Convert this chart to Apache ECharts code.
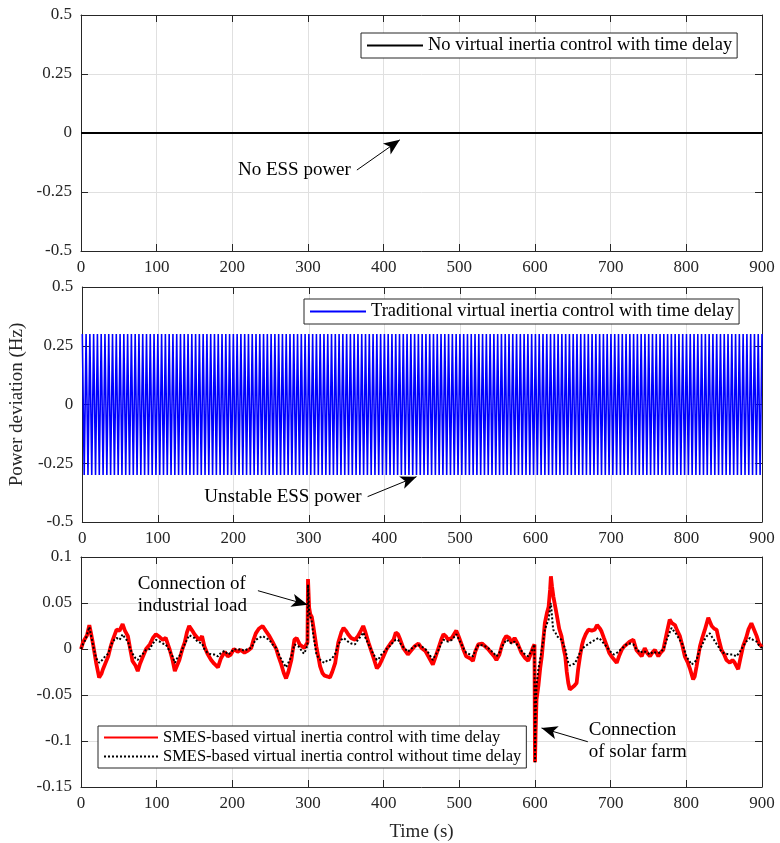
<!DOCTYPE html>
<html>
<head>
<meta charset="utf-8">
<script src="https://cdn.jsdelivr.net/npm/echarts@6/dist/echarts.min.js"></script>
<style>html,body{margin:0;padding:0;background:#fff;}#c{width:780px;height:843px;}</style>
</head>
<body>
<div id="c"></div>
<script>
// ---------- DATA ----------
const xTicks = [0,100,200,300,400,500,600,700,800,900];
const yTicksTop = [-0.5,-0.25,0,0.25,0.5];
const yTicksBottom = [-0.15,-0.1,-0.05,0,0.05,0.1];

const seriesNames = [
  'No virtual inertia control with time delay',
  'Traditional virtual inertia control with time delay',
  'SMES-based virtual inertia control with time delay',
  'SMES-based virtual inertia control without time delay'
];

// Panel 1: no ESS power
const noCtrlT = [0, 900];
const noCtrlV = [0, 0];

// Panel 2: sustained oscillation (peaks)
const tradT = [
0,2.5,5,7.5,10,12.5,15,17.5,20,22.5,25,27.5,30,32.5,35,37.5,40,42.5,45,47.5,
50,52.5,55,57.5,60,62.5,65,67.5,70,72.5,75,77.5,80,82.5,85,87.5,90,92.5,95,97.5,
100,102.5,105,107.5,110,112.5,115,117.5,120,122.5,125,127.5,130,132.5,135,137.5,140,142.5,145,147.5,
150,152.5,155,157.5,160,162.5,165,167.5,170,172.5,175,177.5,180,182.5,185,187.5,190,192.5,195,197.5,
200,202.5,205,207.5,210,212.5,215,217.5,220,222.5,225,227.5,230,232.5,235,237.5,240,242.5,245,247.5,
250,252.5,255,257.5,260,262.5,265,267.5,270,272.5,275,277.5,280,282.5,285,287.5,290,292.5,295,297.5,
300,302.5,305,307.5,310,312.5,315,317.5,320,322.5,325,327.5,330,332.5,335,337.5,340,342.5,345,347.5,
350,352.5,355,357.5,360,362.5,365,367.5,370,372.5,375,377.5,380,382.5,385,387.5,390,392.5,395,397.5,
400,402.5,405,407.5,410,412.5,415,417.5,420,422.5,425,427.5,430,432.5,435,437.5,440,442.5,445,447.5,
450,452.5,455,457.5,460,462.5,465,467.5,470,472.5,475,477.5,480,482.5,485,487.5,490,492.5,495,497.5,
500,502.5,505,507.5,510,512.5,515,517.5,520,522.5,525,527.5,530,532.5,535,537.5,540,542.5,545,547.5,
550,552.5,555,557.5,560,562.5,565,567.5,570,572.5,575,577.5,580,582.5,585,587.5,590,592.5,595,597.5,
600,602.5,605,607.5,610,612.5,615,617.5,620,622.5,625,627.5,630,632.5,635,637.5,640,642.5,645,647.5,
650,652.5,655,657.5,660,662.5,665,667.5,670,672.5,675,677.5,680,682.5,685,687.5,690,692.5,695,697.5,
700,702.5,705,707.5,710,712.5,715,717.5,720,722.5,725,727.5,730,732.5,735,737.5,740,742.5,745,747.5,
750,752.5,755,757.5,760,762.5,765,767.5,770,772.5,775,777.5,780,782.5,785,787.5,790,792.5,795,797.5,
800,802.5,805,807.5,810,812.5,815,817.5,820,822.5,825,827.5,830,832.5,835,837.5,840,842.5,845,847.5,
850,852.5,855,857.5,860,862.5,865,867.5,870,872.5,875,877.5,880,882.5,885,887.5,890,892.5,895,897.5,
900];
const tradV = [
0.3,-0.3,0.3,-0.3,0.3,-0.3,0.3,-0.3,0.3,-0.3,0.3,-0.3,0.3,-0.3,0.3,-0.3,0.3,-0.3,0.3,-0.3,
0.3,-0.3,0.3,-0.3,0.3,-0.3,0.3,-0.3,0.3,-0.3,0.3,-0.3,0.3,-0.3,0.3,-0.3,0.3,-0.3,0.3,-0.3,
0.3,-0.3,0.3,-0.3,0.3,-0.3,0.3,-0.3,0.3,-0.3,0.3,-0.3,0.3,-0.3,0.3,-0.3,0.3,-0.3,0.3,-0.3,
0.3,-0.3,0.3,-0.3,0.3,-0.3,0.3,-0.3,0.3,-0.3,0.3,-0.3,0.3,-0.3,0.3,-0.3,0.3,-0.3,0.3,-0.3,
0.3,-0.3,0.3,-0.3,0.3,-0.3,0.3,-0.3,0.3,-0.3,0.3,-0.3,0.3,-0.3,0.3,-0.3,0.3,-0.3,0.3,-0.3,
0.3,-0.3,0.3,-0.3,0.3,-0.3,0.3,-0.3,0.3,-0.3,0.3,-0.3,0.3,-0.3,0.3,-0.3,0.3,-0.3,0.3,-0.3,
0.3,-0.3,0.3,-0.3,0.3,-0.3,0.3,-0.3,0.3,-0.3,0.3,-0.3,0.3,-0.3,0.3,-0.3,0.3,-0.3,0.3,-0.3,
0.3,-0.3,0.3,-0.3,0.3,-0.3,0.3,-0.3,0.3,-0.3,0.3,-0.3,0.3,-0.3,0.3,-0.3,0.3,-0.3,0.3,-0.3,
0.3,-0.3,0.3,-0.3,0.3,-0.3,0.3,-0.3,0.3,-0.3,0.3,-0.3,0.3,-0.3,0.3,-0.3,0.3,-0.3,0.3,-0.3,
0.3,-0.3,0.3,-0.3,0.3,-0.3,0.3,-0.3,0.3,-0.3,0.3,-0.3,0.3,-0.3,0.3,-0.3,0.3,-0.3,0.3,-0.3,
0.3,-0.3,0.3,-0.3,0.3,-0.3,0.3,-0.3,0.3,-0.3,0.3,-0.3,0.3,-0.3,0.3,-0.3,0.3,-0.3,0.3,-0.3,
0.3,-0.3,0.3,-0.3,0.3,-0.3,0.3,-0.3,0.3,-0.3,0.3,-0.3,0.3,-0.3,0.3,-0.3,0.3,-0.3,0.3,-0.3,
0.3,-0.3,0.3,-0.3,0.3,-0.3,0.3,-0.3,0.3,-0.3,0.3,-0.3,0.3,-0.3,0.3,-0.3,0.3,-0.3,0.3,-0.3,
0.3,-0.3,0.3,-0.3,0.3,-0.3,0.3,-0.3,0.3,-0.3,0.3,-0.3,0.3,-0.3,0.3,-0.3,0.3,-0.3,0.3,-0.3,
0.3,-0.3,0.3,-0.3,0.3,-0.3,0.3,-0.3,0.3,-0.3,0.3,-0.3,0.3,-0.3,0.3,-0.3,0.3,-0.3,0.3,-0.3,
0.3,-0.3,0.3,-0.3,0.3,-0.3,0.3,-0.3,0.3,-0.3,0.3,-0.3,0.3,-0.3,0.3,-0.3,0.3,-0.3,0.3,-0.3,
0.3,-0.3,0.3,-0.3,0.3,-0.3,0.3,-0.3,0.3,-0.3,0.3,-0.3,0.3,-0.3,0.3,-0.3,0.3,-0.3,0.3,-0.3,
0.3,-0.3,0.3,-0.3,0.3,-0.3,0.3,-0.3,0.3,-0.3,0.3,-0.3,0.3,-0.3,0.3,-0.3,0.3,-0.3,0.3,-0.3,
0.3];

// Panel 3: SMES with time delay (red)
const smesDelayT = [0,3,5,8,11,13,16,20,24,27,29,33,36,39,42,47,51,55,58,62,65,68,72,75,78,82,86,91,95,99,
104,108,112,117,121,124,127,130,134,137,140,143,147,150,154,157,160,163,167,172,176,181,185,190,194,198,
202,207,211,216,220,225,228,231,235,240,244,249,253,258,261,264,268,271,274,278,282,285,289,292,295,299.3,
300,301.5,303,305,307,311,314,316,319,322,326,329,332,336,340,344,347,350,353,357,362,366,370,373,376,380,
386,391,394,397,404,409,413,416,419,422,426,432,436,441,446,450,455,459,465,468,472,476,479,482,485,490,
493,496,499,503,506,509,514,518,521,525,530,534,538,542,546,549,553,556,559,562,566,569,573,577,582,587,
591,594,597,599.3,600,600.8,602,604.5,607,609,611,613,616,618,620,621,622.5,624.3,627,629,632,635,638,640,
642,644,646,648.5,652,655,657,659.5,662,664,667,670.5,675,679,682,684,686,688,691,695,698,701,705,708,711,
714.5,718,721,725,730,734,738,741,745,748,752,755,758.5,763,766,769.5,774,778,781,785,788,791.5,795,798,
802,805,809,811,813.5,818,821,824.5,829,831,833.5,837,840,843,846.5,850,853,857.5,861,864,868.5,871,875,
879,882,886,889,893,896,900];
const smesDelayV = [0,0.008,0.01,0.015,0.026,0.018,0.005,-0.015,-0.031,-0.027,-0.022,-0.014,-0.008,0.002,0.01,0.021,0.02,0.027,0.02,0.014,0.0,-0.013,-0.018,-0.024,-0.016,-0.008,0.0,0.005,0.012,0.016,
0.013,0.01,0.012,0.0,-0.012,-0.024,-0.018,-0.012,0.0,0.007,0.018,0.025,0.02,0.016,0.012,0.01,0.014,0.003,-0.005,-0.012,-0.016,-0.02,-0.01,-0.003,-0.008,-0.006,
0.0,-0.003,-0.001,-0.004,-0.002,0.001,0.01,0.017,0.022,0.025,0.02,0.014,0.008,0.0,-0.008,-0.015,-0.026,-0.032,-0.025,-0.012,0.01,0.012,0.005,0.003,0.001,0.007,
0.076,0.045,0.038,0.035,0.025,0.003,-0.01,-0.019,-0.026,-0.029,-0.03,-0.031,-0.025,-0.015,0.007,0.018,0.023,0.02,0.016,0.012,0.01,0.014,0.02,0.025,0.018,0.007,
-0.008,-0.021,-0.018,-0.013,0.0,0.006,0.01,0.018,0.016,0.01,0.001,-0.006,-0.002,0.003,0.006,0.001,-0.002,-0.008,-0.017,-0.01,0.0,0.01,0.016,0.014,0.01,0.012,
0.016,0.02,0.014,0.005,-0.002,-0.008,-0.01,-0.013,-0.003,0.005,0.006,0.003,0.0,-0.004,-0.008,-0.012,-0.006,0.003,0.01,0.014,0.012,0.007,0.012,0.006,-0.004,-0.01,
-0.013,-0.006,0.001,0.005,-0.123,-0.09,-0.055,-0.04,-0.02,-0.008,0.01,0.028,0.04,0.046,0.065,0.079,0.068,0.057,0.045,0.036,0.022,0.014,0.0,-0.008,
-0.025,-0.037,-0.044,-0.044,-0.04,-0.037,-0.022,-0.008,0.004,0.01,0.016,0.021,0.02,0.021,0.026,0.028,0.022,0.019,0.012,0.003,-0.004,-0.008,-0.012,-0.015,-0.008,
-0.001,0.003,0.005,0.008,0.01,-0.001,-0.005,-0.008,0.001,-0.004,-0.008,-0.004,-0.001,-0.008,-0.004,-0.001,0.017,0.032,0.028,0.026,0.02,0.014,0.003,-0.008,
-0.015,-0.022,-0.033,-0.03,-0.019,0.003,0.012,0.021,0.034,0.03,0.025,0.022,0.021,0.01,-0.001,-0.006,-0.012,-0.015,-0.012,-0.015,-0.022,-0.012,0.003,
0.012,0.021,0.028,0.022,0.014,0.006,0.002];

// Panel 3: SMES without time delay (black dotted)
const smesNoDelayT = [0,3,6,8,11,14,17,20,24,28,32,36,40,44,47,51,55,58,62,65,68,72,75,78,82,86,91,95,99,
104,108,112,117,121,124,127,130,134,137,140,143,147,150,154,157,160,163,167,172,176,181,185,190,194,198,
202,207,211,216,220,225,228,231,235,240,244,249,253,258,261,264,268,271,274,278,282,285,289,292,295,299.3,
300,301.5,303,305,307,309,311,314,316,319,322,326,329,332,336,340,344,347,350,353,357,362,366,370,373,376,380,
386,391,394,397,404,409,413,416,419,422,426,432,436,441,446,450,455,459,465,468,472,476,479,482,485,490,
493,496,499,503,506,509,514,518,521,525,530,534,538,542,546,549,553,556,559,562,566,569,573,577,582,587,
591,594,597,599.3,600,600.8,602,604.5,607,609,611,613,616,618,620,621,622.5,624,627,629,632,635,638,640,
642,644,646,648.5,652,655,657,659.5,662,666,670,675,680,684,687,690,694,697,701,704,707,710,
714,718,721,725,730,734,739,743,748,752,756,760,765,770,774,778,780.5,784,787,791,794,797,
800,804,807,810,813.5,817,820,824,827,831,834,838,842,846.5,851,857.5,862,866,870,875,
879,884,888,893,896,900];
const smesNoDelayV = [0,0.006,0.01,0.012,0.024,0.012,0.0,-0.01,-0.015,-0.012,-0.008,-0.005,0.005,0.01,0.012,0.01,0.016,0.012,0.008,0.0,-0.005,-0.01,-0.012,-0.008,-0.005,-0.001,0.0,0.006,0.01,
0.008,0.006,0.005,-0.002,-0.008,-0.015,-0.01,-0.008,0.0,0.005,0.01,0.015,0.013,0.012,0.008,0.007,0.006,0.0,-0.004,-0.006,-0.006,-0.008,-0.004,-0.002,-0.006,-0.004,
0.0,-0.001,0.0,-0.002,0.0,0.001,0.006,0.01,0.012,0.014,0.012,0.01,0.005,0.001,-0.005,-0.01,-0.016,-0.02,-0.015,-0.008,0.005,0.004,0.002,-0.003,-0.005,0.004,
0.07,0.04,0.035,0.03,0.015,0.005,-0.005,-0.01,-0.012,-0.014,-0.015,-0.012,-0.012,-0.01,-0.005,0.005,0.01,0.012,0.01,0.008,0.006,0.005,0.01,0.014,0.018,0.012,0.005,
-0.005,-0.012,-0.01,-0.006,0.0,0.004,0.008,0.01,0.01,0.006,0.002,-0.003,0.0,0.003,0.004,0.003,0.0,-0.004,-0.012,-0.007,-0.002,0.006,0.01,0.009,0.008,0.01,
0.013,0.016,0.011,0.005,0.0,-0.004,-0.006,-0.008,-0.002,0.004,0.004,0.003,0.001,-0.002,-0.005,-0.008,-0.004,0.002,0.006,0.01,0.008,0.006,0.008,0.004,-0.002,-0.006,
-0.008,-0.004,0.0,0.005,-0.123,-0.07,-0.04,-0.022,-0.01,0.0,0.01,0.021,0.028,0.032,0.045,0.05,0.035,0.021,0.018,0.014,0.012,0.01,0.004,0.0,
-0.008,-0.015,-0.018,-0.019,-0.016,-0.012,-0.008,-0.004,0.0,0.003,0.005,0.008,0.01,0.012,0.01,0.007,0.003,0.0,-0.004,-0.006,-0.005,-0.003,
0.0,0.003,0.005,0.006,0.005,0.0,-0.004,-0.002,-0.004,-0.006,-0.003,-0.004,-0.004,0.0,0.01,0.018,0.023,0.019,0.016,0.01,0.007,0.0,
-0.008,-0.013,-0.017,-0.015,-0.012,-0.002,0.003,0.01,0.014,0.017,0.013,0.008,0.003,-0.003,-0.005,-0.006,-0.006,-0.008,-0.004,0.003,
0.008,0.012,0.01,0.008,0.004,0.001];

// ---------- CHART ----------
const FONT = "'Liberation Serif','DejaVu Serif',serif";
const AX = '#262626';
const pair = (t, v) => t.map((x, i) => [x, v[i]]);
const chart = echarts.init(document.getElementById('c'), null, {renderer: 'canvas'});

const grids = [
  {left: 81, right: 18, top: 15, height: 236},
  {left: 81, right: 18, top: 287, height: 235},
  {left: 81, right: 18, top: 557, height: 230}
];
const yRanges = [
  {min: yTicksTop[0], max: yTicksTop[yTicksTop.length-1], interval: 0.25},
  {min: yTicksTop[0], max: yTicksTop[yTicksTop.length-1], interval: 0.25},
  {min: yTicksBottom[0], max: yTicksBottom[yTicksBottom.length-1], interval: 0.05}
];
const fmt = v => String(Number(v.toFixed(4)));

const xAxes = [], yAxes = [];
for (let i = 0; i < 3; i++) {
  xAxes.push({
    type: 'value', gridIndex: i, position: 'bottom',
    min: xTicks[0], max: xTicks[xTicks.length-1], interval: 100,
    axisLine: {show: true, onZero: false, lineStyle: {color: AX, width: 1}},
    axisTick: {show: true, inside: true, length: 7, lineStyle: {color: AX}},
    axisLabel: {show: true, color: AX, fontSize: 17, fontFamily: FONT, margin: 8},
    splitLine: {show: true, lineStyle: {color: '#e0e0e0', width: 1}},
    name: i === 2 ? 'Time (s)' : '', nameLocation: 'middle', nameGap: 36,
    nameTextStyle: {fontFamily: FONT, fontSize: 19, color: AX}
  });
  yAxes.push({
    type: 'value', gridIndex: i, position: 'left',
    min: yRanges[i].min, max: yRanges[i].max, interval: yRanges[i].interval,
    axisLine: {show: true, onZero: false, lineStyle: {color: AX, width: 1}},
    axisTick: {show: true, inside: true, length: 7, lineStyle: {color: AX}},
    axisLabel: {show: true, color: AX, fontSize: 17, fontFamily: FONT, margin: 9, formatter: fmt},
    splitLine: {show: true, lineStyle: {color: '#e0e0e0', width: 1}},
    name: i === 1 ? 'Power deviation (Hz)' : '', nameLocation: 'middle', nameGap: 39,
    nameTextStyle: {fontFamily: FONT, fontSize: 19, color: AX}
  });
}
for (let i = 0; i < 3; i++) {
  xAxes.push({
    type: 'value', gridIndex: i, position: 'top',
    min: xTicks[0], max: xTicks[xTicks.length-1], interval: 100,
    axisLine: {show: true, onZero: false, lineStyle: {color: AX, width: 1}},
    axisTick: {show: true, inside: true, length: 7, lineStyle: {color: AX}},
    axisLabel: {show: false}, splitLine: {show: false}
  });
  yAxes.push({
    type: 'value', gridIndex: i, position: 'right',
    min: yRanges[i].min, max: yRanges[i].max, interval: yRanges[i].interval,
    axisLine: {show: true, onZero: false, lineStyle: {color: AX, width: 1}},
    axisTick: {show: true, inside: true, length: 7, lineStyle: {color: AX}},
    axisLabel: {show: false}, splitLine: {show: false}
  });
}

const arrow = (a, b) => ({
  silent: true, symbol: ['none', 'arrow'], symbolSize: [10, 16],
  lineStyle: {color: '#000', width: 1, type: 'solid'},
  itemStyle: {color: '#000'},
  label: {show: false}, emphasis: {disabled: true},
  data: [[{coord: a}, {coord: b}]]
});

const legendBase = {
  borderColor: '#262626', borderWidth: 1, backgroundColor: '#fff',
  itemWidth: 56, itemHeight: 2, itemGap: 2, padding: [3, 5, 3, 5],
  selectedMode: false,
  itemStyle: {opacity: 0},
  textStyle: {fontFamily: FONT, fontSize: 18.5, color: '#000'}
};

const option = {
  animation: false,
  backgroundColor: '#fff',
  grid: grids,
  xAxis: xAxes,
  yAxis: yAxes,
  legend: [
    Object.assign({}, legendBase, {data: [seriesNames[0]], left: 361, top: 33}),
    Object.assign({}, legendBase, {data: [seriesNames[1]], left: 304, top: 299}),
    Object.assign({}, legendBase, {data: [seriesNames[2], seriesNames[3]], left: 98, top: 726,
      orient: 'vertical', itemWidth: 54, itemGap: 2, padding: [3, 5, 3, 5],
      textStyle: {fontFamily: FONT, fontSize: 16.5, color: '#000'}})
  ],
  series: [
    {name: seriesNames[0], type: 'line', xAxisIndex: 0, yAxisIndex: 0, data: pair(noCtrlT, noCtrlV),
     showSymbol: false, symbol: 'none', lineStyle: {color: '#000', width: 2}, itemStyle: {color: '#000'},
     markLine: arrow([364.6, -0.157], [421.4, -0.029])},
    {name: seriesNames[1], type: 'line', xAxisIndex: 1, yAxisIndex: 1, data: pair(tradT, tradV),
     showSymbol: false, symbol: 'none', lineStyle: {color: '#0000ff', width: 1.6}, itemStyle: {color: '#0000ff'},
     markLine: arrow([377.8, -0.392], [442.5, -0.307])},
    {name: seriesNames[2], type: 'line', xAxisIndex: 2, yAxisIndex: 2, data: pair(smesDelayT, smesDelayV),
     showSymbol: false, symbol: 'none', lineStyle: {color: '#ff0000', width: 3.8}, itemStyle: {color: '#ff0000'},
     markLine: arrow([233.8, 0.0634], [299.5, 0.048])},
    {name: seriesNames[3], type: 'line', xAxisIndex: 2, yAxisIndex: 2, data: pair(smesNoDelayT, smesNoDelayV),
     showSymbol: false, symbol: 'none', lineStyle: {color: '#000', width: 2, type: [2, 2]}, itemStyle: {color: '#000'},
     markLine: arrow([669.8, -0.1008], [608.6, -0.0859])}
  ]
};
chart.setOption(option);

// annotation texts placed in data coordinates
const notes = [
  {g: 0, at: [364.6, -0.157], text: 'No ESS power', align: 'right', dx: -6},
  {g: 1, at: [377.8, -0.392], text: 'Unstable ESS power', align: 'right', dx: -6},
  {g: 2, at: [74.9, 0.071], text: 'Connection of', align: 'left', dx: 0},
  {g: 2, at: [74.9, 0.047], text: 'industrial load', align: 'left', dx: 0},
  {g: 2, at: [671, -0.0876], text: 'Connection', align: 'left', dx: 0},
  {g: 2, at: [671, -0.1124], text: 'of solar farm', align: 'left', dx: 0}
];
const graphic = notes.map(n => {
  const p = chart.convertToPixel({xAxisIndex: n.g, yAxisIndex: n.g}, n.at);
  return {type: 'text', x: p[0] + n.dx, y: p[1], silent: true, z: 100,
    style: {text: n.text, font: '19px ' + FONT, fill: '#000', textAlign: n.align, textVerticalAlign: 'middle'}};
});
chart.setOption({graphic: graphic});
</script>
</body>
</html>
